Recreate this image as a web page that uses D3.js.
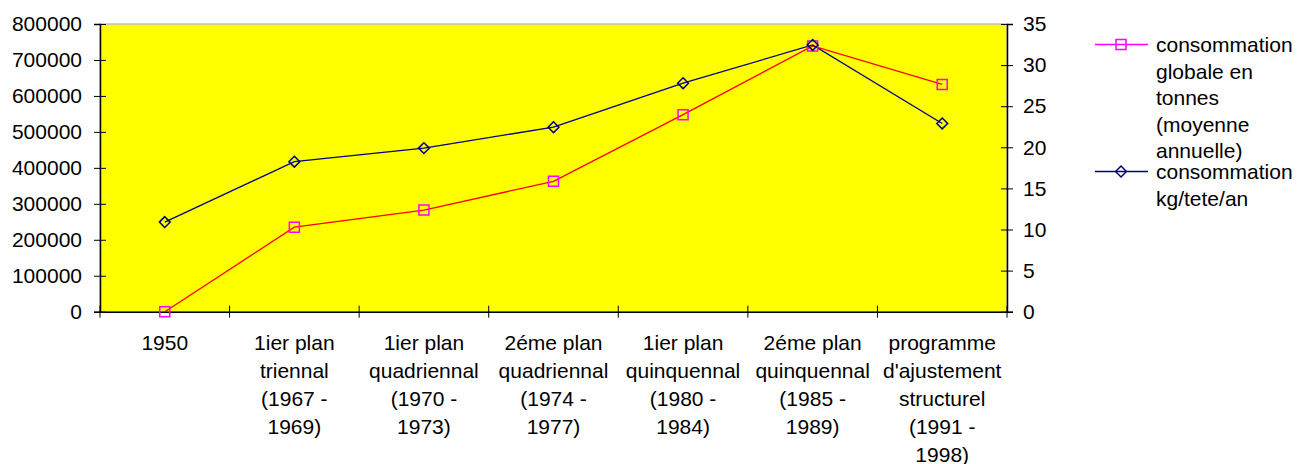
<!DOCTYPE html>
<html><head><meta charset="utf-8">
<script src="https://cdn.jsdelivr.net/npm/d3@7"></script>
<style>body{margin:0;background:#fff}svg{display:block}text{font-family:"Liberation Sans",Arial,sans-serif;fill:#000}</style>
</head><body><svg id="c" width="1297" height="464"></svg>
<script>
const categories = [
  ["1950"],
  ["1ier plan","triennal","(1967 -","1969)"],
  ["1ier plan","quadriennal","(1970 -","1973)"],
  ["2éme plan","quadriennal","(1974 -","1977)"],
  ["1ier plan","quinquennal","(1980 -","1984)"],
  ["2éme plan","quinquennal","(1985 -","1989)"],
  ["programme","d'ajustement","structurel","(1991 -","1998)"]
];
const globale = [0, 235000, 282500, 362500, 548000, 739000, 632000];
const parTete = [10.9, 18.25, 19.9, 22.45, 27.8, 32.45, 22.9];
const leftTicks = [0,100000,200000,300000,400000,500000,600000,700000,800000];
const rightTicks = [0,5,10,15,20,25,30,35];
const legendGlobale = ["consommation","globale en","tonnes","(moyenne","annuelle)"];
const legendTete = ["consommation","kg/tete/an"];

const svg = d3.select("#c");
const L = 100, R = 1007, T = 24, B = 311.7;
const fs = 21;
const x = d3.scaleBand().domain(d3.range(categories.length)).range([L, R]).padding(0);
const yL = d3.scaleLinear().domain([0, 800000]).range([B, T]);
const yR = d3.scaleLinear().domain([0, 35]).range([B, T]);

// plot area
svg.append("rect").attr("x", L).attr("y", T).attr("width", R - L).attr("height", B - T)
  .attr("fill", "#FFFF00").attr("stroke", "#c0c0c0").attr("stroke-width", 1.5);

// left axis
const gl = svg.append("g").attr("transform", `translate(${L},0)`)
  .call(d3.axisLeft(yL).tickValues(leftTicks).tickFormat(d3.format("d")).tickSize(6).tickPadding(12));
gl.selectAll(".tick line").clone().attr("x2", 6);
// right axis
const gr = svg.append("g").attr("transform", `translate(${R},0)`)
  .call(d3.axisRight(yR).tickValues(rightTicks).tickSize(6).tickPadding(10));
gr.selectAll(".tick line").clone().attr("x2", -6);
// bottom axis
const gb = svg.append("g").attr("transform", `translate(0,${B})`)
  .call(d3.axisBottom(x).tickSize(0).tickFormat(""));
const bTicks = d3.range(categories.length + 1).map(i => L + i * x.bandwidth());
gb.selectAll(".bt").data(bTicks).enter().append("line")
  .attr("x1", d => d).attr("x2", d => d).attr("y1", -6).attr("y2", 6).attr("stroke", "#000");

[gl, gr, gb].forEach(g => {
  g.select(".domain").attr("stroke", "#000").attr("stroke-width", 1.5);
  g.selectAll(".tick line").attr("stroke", "#000");
  g.selectAll("text").style("font-size", fs + "px").style("font-family", '"Liberation Sans",Arial,sans-serif').attr("fill", "#000");
});

// category labels
const lab = svg.append("g");
categories.forEach((lines, i) => {
  const t = lab.append("text").attr("text-anchor", "middle").style("font-size", fs + "px");
  lines.forEach((s, j) => {
    t.append("tspan").attr("x", x(i) + x.bandwidth() / 2).attr("y", 350 + j * 28).text(s);
  });
});

const cx = i => x(i) + x.bandwidth() / 2;
// series lines
svg.append("path").datum(globale)
  .attr("d", d3.line().x((d, i) => cx(i)).y(d => yL(d)))
  .attr("fill", "none").attr("stroke", "#FF0000").attr("stroke-width", 1.3);
svg.append("path").datum(parTete)
  .attr("d", d3.line().x((d, i) => cx(i)).y(d => yR(d)))
  .attr("fill", "none").attr("stroke", "#000080").attr("stroke-width", 1.3);

const sq = d3.symbol().type(d3.symbolSquare).size(100);
const dm = d3.symbol().type(d3.symbolDiamond2).size(75);
svg.append("g").selectAll("path").data(globale).enter().append("path")
  .attr("d", sq).attr("transform", (d, i) => `translate(${cx(i)},${yL(d)})`)
  .attr("fill", "none").attr("stroke", "#FF00FF").attr("stroke-width", 1.5);
svg.append("g").selectAll("path").data(parTete).enter().append("path")
  .attr("d", dm).attr("transform", (d, i) => `translate(${cx(i)},${yR(d)})`)
  .attr("fill", "none").attr("stroke", "#000080").attr("stroke-width", 1.5);

// legend
const lg = svg.append("g");
function legendItem(yc, lines, color, sym) {
  lg.append("line").attr("x1", 1095).attr("x2", 1148).attr("y1", yc).attr("y2", yc)
    .attr("stroke", color).attr("stroke-width", 1.3);
  lg.append("path").attr("d", sym).attr("transform", `translate(1121,${yc})`)
    .attr("fill", "none").attr("stroke", color).attr("stroke-width", 1.5);
  const t = lg.append("text").style("font-size", fs + "px");
  lines.forEach((s, j) => t.append("tspan").attr("x", 1156).attr("y", yc + 7.5 + j * 26.6).text(s));
}
legendItem(44.5, legendGlobale, "#FF00FF", sq);
legendItem(171.5, legendTete, "#000080", dm);
</script></body></html>
